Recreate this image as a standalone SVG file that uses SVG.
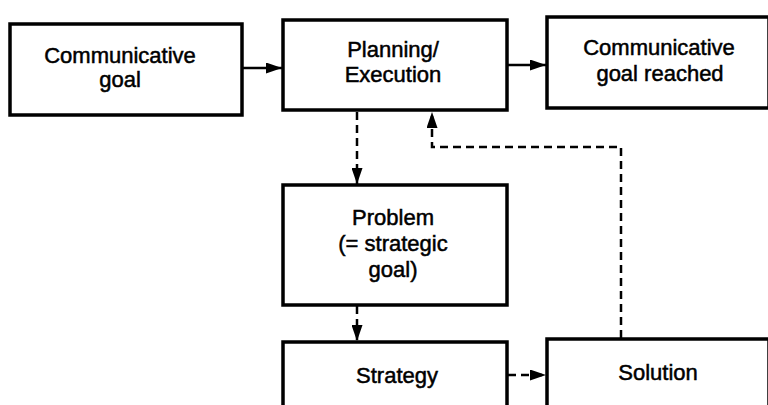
<svg xmlns="http://www.w3.org/2000/svg" width="768" height="405" viewBox="0 0 768 405">
  <style>
    .box { fill: #ffffff; stroke: #000000; stroke-width: 3.5; }
    .lbl { font-family: "Liberation Sans", Arial, sans-serif; font-size: 22px; fill: #000000; stroke: #000000; stroke-width: 0.5; text-anchor: middle; }
    .solid { stroke: #000000; stroke-width: 2.5; fill: none; }
    .dash { stroke: #000000; stroke-width: 2.5; fill: none; stroke-dasharray: 8 5; }
  </style>
  <defs>
    <marker id="arrow" viewBox="0 0 16 11" refX="16" refY="5.5" markerWidth="16" markerHeight="11" markerUnits="userSpaceOnUse" orient="auto">
      <path d="M0,0 L16,5.5 L0,11 z" fill="#000000"/>
    </marker>
  </defs>
  <rect width="768" height="405" fill="#ffffff"/>

  <g id="connectors">
    <line class="solid" x1="242" y1="68" x2="282" y2="68" marker-end="url(#arrow)"/>
    <line class="solid" x1="507" y1="65" x2="546" y2="65" marker-end="url(#arrow)"/>
    <line class="dash" x1="357" y1="112" x2="357" y2="184" marker-end="url(#arrow)"/>
    <line class="dash" x1="357" y1="306" x2="357" y2="341" marker-end="url(#arrow)"/>
    <line class="dash" x1="508" y1="375" x2="546" y2="375" marker-end="url(#arrow)"/>
    <polyline class="dash" points="621,338 621,147 432,147 432,112" marker-end="url(#arrow)"/>
  </g>

  <g id="communicative-goal">
    <rect class="box" x="10" y="24" width="232" height="91"/>
    <text class="lbl" x="120" y="63">Communicative</text>
    <text class="lbl" x="120" y="87">goal</text>
  </g>

  <g id="planning-execution">
    <rect class="box" x="283" y="20" width="224" height="90"/>
    <text class="lbl" x="393" y="57">Planning/</text>
    <text class="lbl" x="393" y="82">Execution</text>
  </g>

  <g id="goal-reached">
    <rect class="box" x="547" y="17" width="222" height="91"/>
    <text class="lbl" x="659" y="55">Communicative</text>
    <text class="lbl" x="660" y="81">goal reached</text>
  </g>

  <g id="problem">
    <rect class="box" x="283" y="185" width="224" height="120"/>
    <text class="lbl" x="393" y="225">Problem</text>
    <text class="lbl" x="393" y="251">(= strategic</text>
    <text class="lbl" x="393" y="277">goal)</text>
  </g>

  <g id="strategy">
    <rect class="box" x="283" y="342" width="224" height="80"/>
    <text class="lbl" x="397" y="383">Strategy</text>
  </g>

  <g id="solution">
    <rect class="box" x="547" y="339" width="222" height="80"/>
    <text class="lbl" x="658" y="380">Solution</text>
  </g>
</svg>
